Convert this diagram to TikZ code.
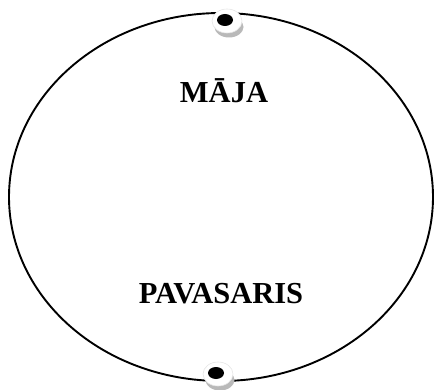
\documentclass[tikz,border=0pt]{standalone}
\usepackage{fontspec}
\setmainfont{Liberation Serif}
\usetikzlibrary{shapes.geometric}
\begin{document}
\begin{tikzpicture}[x=1pt,y=-1pt,
  lbl/.style={font=\fontsize{30.5}{34}\selectfont\bfseries, inner sep=0pt},
  btnshadow/.style={fill=gray!55, draw=none},
  btnface/.style={fill=white, draw=gray!20, line width=0.6pt},
  btndot/.style={fill=black, draw=none}]
\useasboundingbox (0,0) rectangle (434,390);
\node[draw, ellipse, minimum width=424pt, minimum height=368pt, line width=1.9pt, inner sep=0pt] (oval) at (221,197) {};
% top button
\fill[btnshadow] (229,27) ellipse (14.5 and 10.5);
\fill[btnface] (227,21) ellipse (15 and 12);
\fill[btndot] (225,20) ellipse (8 and 6);
% bottom button
\fill[btnshadow] (220,380) ellipse (14.5 and 10.5);
\fill[btnface] (218,374) ellipse (15 and 12);
\fill[btndot] (216,373) ellipse (8 and 6);
\node[lbl] (maja) at (224,91) {MĀJA};
\node[lbl] (pav) at (221,294) {PAVASARIS};
\end{tikzpicture}
\end{document}
